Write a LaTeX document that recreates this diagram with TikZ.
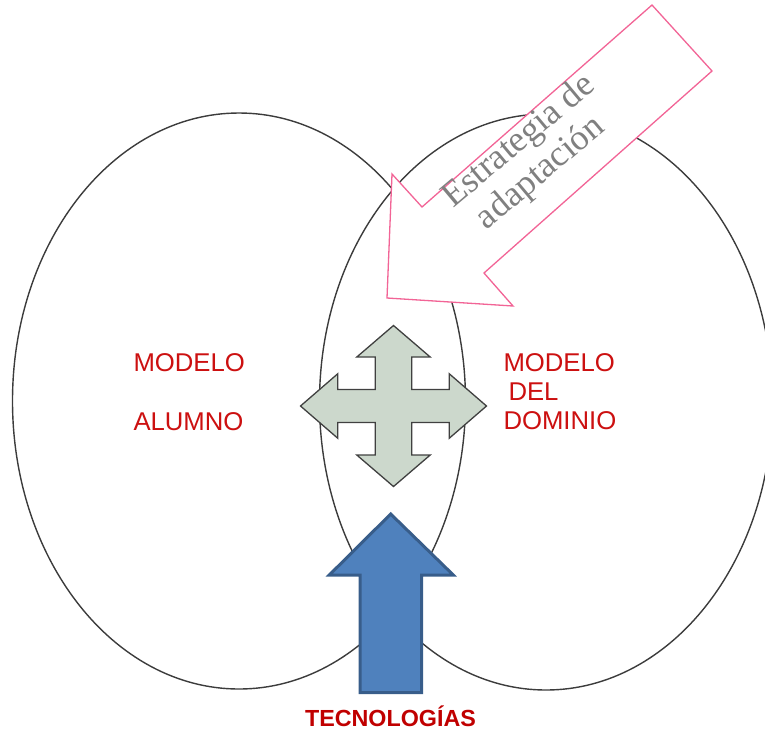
\documentclass[tikz,border=0pt]{standalone}
\usepackage{fontspec}
\setmainfont{Liberation Serif}
\newfontfamily\arialf{Liberation Sans}
\usetikzlibrary{shapes.geometric}
\definecolor{modelred}{RGB}{204,16,16}
\definecolor{techred}{RGB}{192,0,0}
\definecolor{pinkline}{RGB}{242,100,150}
\definecolor{crossfill}{RGB}{204,216,204}
\definecolor{crossline}{RGB}{64,64,64}
\definecolor{bluefill}{RGB}{79,129,189}
\definecolor{blueline}{RGB}{56,93,138}
\definecolor{grayt}{RGB}{128,128,128}
\definecolor{ellline}{RGB}{60,60,60}
\tikzset{
  modelbox/.style={draw=ellline, line width=1.4pt, ellipse, inner sep=0pt,
    minimum width=453pt, minimum height=576pt},
  modeltext/.style={text=modelred, font=\arialf\fontsize{25.7}{30}\selectfont,
    anchor=base west, inner sep=0pt},
  stratext/.style={text=grayt, font=\fontsize{36}{40}\selectfont,
    anchor=base, rotate=40, inner sep=0pt},
  techtext/.style={text=techred, font=\arialf\bfseries\fontsize{23.3}{28}\selectfont,
    anchor=base, inner sep=0pt, text depth=0pt},
  pinkarrow/.style={draw=pinkline, fill=white, line width=1.3pt, line join=miter},
  crossarrow/.style={draw=crossline, fill=crossfill, line width=1.3pt, line join=miter},
  bluearrow/.style={draw=blueline, fill=bluefill, line width=3pt, line join=miter}
}
\begin{document}
\begin{tikzpicture}[x=1pt,y=-1pt]
\useasboundingbox (0,0) rectangle (765,729);
% ellipses
\node[modelbox] (alumno) at (239,401) {};
\node[modelbox] (dominio) at (546,402) {};
% strategy arrow
\draw[pinkarrow] (652,5) -- (712,71) -- (484,273) -- (513,306) -- (387,298)
  -- (392,174) -- (422,207) -- cycle;
\node[stratext] (estr1) at (525,148.3) {Estrategia de};
\node[stratext] (estr2) at (546.7,180) {adaptación};
% cross arrow
\draw[crossarrow] (393.5,325.5) -- (430.2,357) -- (411.8,357) -- (411.8,389.5)
  -- (449.3,389.5) -- (449.3,373.8) -- (486.5,406) -- (449.3,438.2) -- (449.3,422.5)
  -- (411.8,422.5) -- (411.8,455) -- (430.2,455) -- (393.5,486.5) -- (356.8,455)
  -- (375.2,455) -- (375.2,422.5) -- (337.7,422.5) -- (337.7,438.2) -- (300.5,406)
  -- (337.7,373.8) -- (337.7,389.5) -- (375.2,389.5) -- (375.2,357) -- (356.8,357) -- cycle;
\coordinate (crossc) at (393.5,406);
% technology arrow
\draw[bluearrow] (390.7,514) -- (453.3,575) -- (421.7,575) -- (421.7,692.7)
  -- (360,692.7) -- (360,575) -- (329.3,575) -- cycle;
% texts
\node[modeltext] (ma1) at (133.3,371.7) {MODELO};
\node[modeltext] (ma2) at (133.3,430) {ALUMNO};
\node[modeltext] (md1) at (503.3,371.7) {MODELO};
\node[modeltext] (md2) at (508.3,400) {DEL};
\node[modeltext] (md3) at (503.3,429.3) {DOMINIO};
\node[techtext] (tec) at (390.5,726.7) {TECNOLOGÍAS};
\end{tikzpicture}
\end{document}
